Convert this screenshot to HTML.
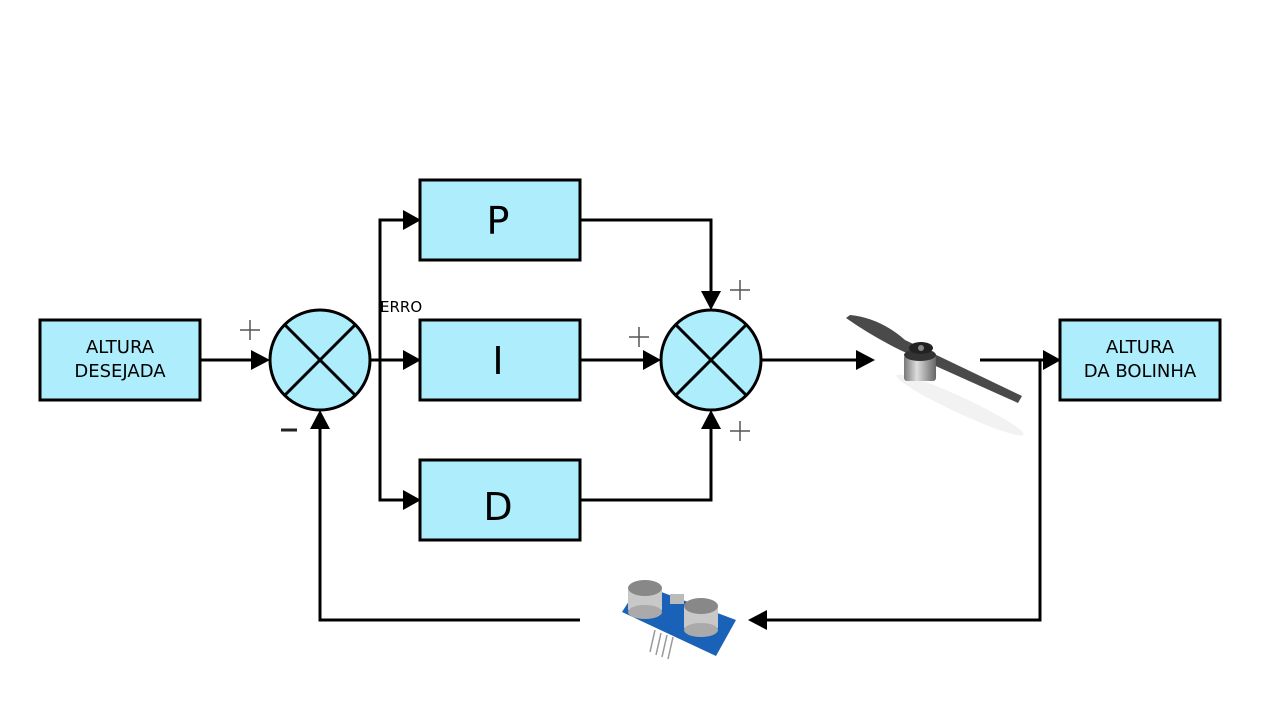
<!DOCTYPE html>
<html><head><meta charset="utf-8"><style>
html,body{margin:0;padding:0;background:#fff;}
svg{display:block;font-family:"DejaVu Sans","Liberation Sans",sans-serif;}
</style></head><body>
<svg width="1280" height="720" viewBox="0 0 1280 720" xmlns="http://www.w3.org/2000/svg">
<defs>
<linearGradient id="mot" x1="0" x2="1"><stop offset="0" stop-color="#777"/><stop offset="0.4" stop-color="#ddd"/><stop offset="1" stop-color="#666"/></linearGradient>
</defs>
<g stroke="#000" stroke-width="3" fill="none">
<line x1="200" y1="360" x2="255" y2="360"/>
<line x1="370" y1="360" x2="405" y2="360"/>
<polyline points="405,220 380,220 380,500 405,500"/>
<line x1="580" y1="360" x2="645" y2="360"/>
<polyline points="580,220 711,220 711,295"/>
<polyline points="580,500 711,500 711,425"/>
<line x1="761" y1="360" x2="860" y2="360"/>
<line x1="980" y1="360" x2="1045" y2="360"/>
<polyline points="1040,360 1040,620 765,620"/>
<polyline points="580,620 320,620 320,425"/>
</g>
<!-- propeller -->
<ellipse cx="960" cy="405" rx="70" ry="8" fill="#f2f2f2" transform="rotate(25 960 405)"/>
<path d="M850,315 Q880,318 905,340 L1022,396 L1018,403 L900,350 Q870,335 846,318Z" fill="#4a4a4a"/>
<rect x="904" y="355" width="32" height="26" rx="3" fill="url(#mot)"/>
<ellipse cx="920" cy="355" rx="16" ry="6" fill="#333"/>
<ellipse cx="921" cy="348" rx="12" ry="6" fill="#222"/>
<circle cx="921" cy="348" r="3" fill="#888"/>
<g fill="#000">
<polygon points="270,360 251,350 251,370"/>
<polygon points="421,360 403,350 403,370"/>
<polygon points="421,220 403,210 403,230"/>
<polygon points="421,500 403,490 403,510"/>
<polygon points="661,360 643,350 643,370"/>
<polygon points="711,310 701,291 721,291"/>
<polygon points="711,410 701,429 721,429"/>
<polygon points="320,410 310,429 330,429"/>
<polygon points="875,360 856,350 856,370"/>
<polygon points="1061,360 1043,350 1043,370"/>
<polygon points="748,620 767,610 767,630"/>
</g>
<g fill="#aeeefc" stroke="#000" stroke-width="3">
<rect x="40" y="320" width="160" height="80"/>
<rect x="420" y="180" width="160" height="80"/>
<rect x="420" y="320" width="160" height="80"/>
<rect x="420" y="460" width="160" height="80"/>
<rect x="1060" y="320" width="160" height="80"/>
<circle cx="320" cy="360" r="50"/>
<circle cx="711" cy="360" r="50"/>
</g>
<g stroke="#000" stroke-width="3">
<line x1="284.6" y1="324.6" x2="355.4" y2="395.4"/><line x1="355.4" y1="324.6" x2="284.6" y2="395.4"/>
<line x1="675.6" y1="324.6" x2="746.4" y2="395.4"/><line x1="746.4" y1="324.6" x2="675.6" y2="395.4"/>
</g>
<g font-size="18" text-anchor="middle" fill="#000">
<text x="120" y="353">ALTURA</text><text x="120" y="377">DESEJADA</text>
<text x="1140" y="353">ALTURA</text><text x="1140" y="377">DA BOLINHA</text>
</g>
<g font-size="38" text-anchor="middle" fill="#000">
<text x="498" y="234">P</text><text x="498" y="374">I</text><text x="498" y="520">D</text>
</g>
<text x="380" y="312" font-size="15">ERRO</text>
<g stroke="#555" stroke-width="1.5">
<line x1="240" y1="330" x2="260" y2="330"/><line x1="250" y1="320" x2="250" y2="340"/>
<line x1="730" y1="290" x2="750" y2="290"/><line x1="740" y1="280" x2="740" y2="300"/>
<line x1="629" y1="337" x2="649" y2="337"/><line x1="639" y1="327" x2="639" y2="347"/>
<line x1="730" y1="431" x2="750" y2="431"/><line x1="740" y1="421" x2="740" y2="441"/>
</g>
<line x1="281" y1="430" x2="297" y2="430" stroke="#222" stroke-width="3"/>
<!-- sensor -->
<polygon points="622,612 640,584 736,620 716,656" fill="#1a62b8"/>
<g stroke="#999" stroke-width="1.5"><line x1="655" y1="630" x2="650" y2="652"/><line x1="661" y1="633" x2="656" y2="655"/><line x1="667" y1="635" x2="662" y2="657"/><line x1="673" y1="637" x2="668" y2="659"/></g>
<rect x="670" y="594" width="14" height="10" fill="#bbb"/>
<rect x="628" y="586" width="34" height="26" fill="#c8c8c8" rx="3"/>
<ellipse cx="645" cy="588" rx="17" ry="8" fill="#888"/>
<ellipse cx="645" cy="612" rx="17" ry="7" fill="#aaa"/>
<rect x="684" y="604" width="34" height="26" fill="#c8c8c8" rx="3"/>
<ellipse cx="701" cy="606" rx="17" ry="8" fill="#888"/>
<ellipse cx="701" cy="630" rx="17" ry="7" fill="#aaa"/>
</svg>
</body></html>
